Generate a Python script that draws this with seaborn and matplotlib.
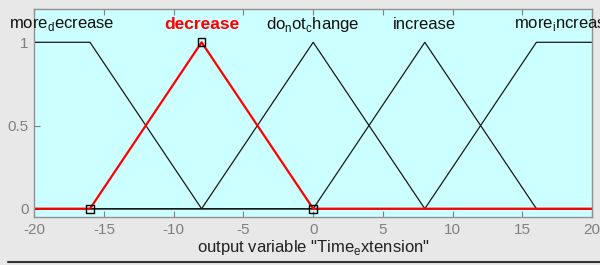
import matplotlib
matplotlib.use("Agg")
import matplotlib.pyplot as plt
import seaborn as sns
import pandas as pd

# membership functions of output variable "Time_extension"
mf_names = ["more$_\\mathrm{d}$ecrease", "decrease", "do$_\\mathrm{n}$ot$_\\mathrm{c}$hange",
            "increase", "more$_\\mathrm{i}$ncrease"]
mf_x = [
    [-20, -16, -8, 20],
    [-20, -16, -8, 0, 20],
    [-20, -8, 0, 8, 20],
    [-20, 0, 8, 16, 20],
    [-20, 8, 16, 20],
]
mf_y = [
    [1, 1, 0, 0],
    [0, 0, 1, 0, 0],
    [0, 0, 1, 0, 0],
    [0, 0, 1, 0, 0],
    [0, 0, 1, 1],
]
label_x = [-18, -8, 0, 8, 18]
selected = 1  # "decrease" is highlighted

xticks = [-20, -15, -10, -5, 0, 5, 10, 15, 20]
yticks = [0, 0.5, 1]
ytick_labels = ["0", "0.5", "1"]

sns.set_style("white")
plt.rcParams["font.family"] = ["Arial", "Liberation Sans", "DejaVu Sans"]
plt.rcParams["mathtext.fontset"] = "custom"
plt.rcParams["mathtext.rm"] = "Liberation Sans"

fig = plt.figure(figsize=(6, 2.65), dpi=100, facecolor="#e8e8e8")
ax = fig.add_axes([0.057, 0.181, 0.93, 0.785])
ax.set_facecolor("#ccffff")

rows = []
for i, name in enumerate(mf_names):
    for xv, yv in zip(mf_x[i], mf_y[i]):
        rows.append({"mf": name, "x": xv, "y": yv})
df = pd.DataFrame(rows)

for i, name in enumerate(mf_names):
    if i == selected:
        continue
    sns.lineplot(data=df[df["mf"] == name], x="x", y="y", ax=ax,
                 color="#1a1a1a", linewidth=0.9, sort=False)

sel = df[df["mf"] == mf_names[selected]]
sns.lineplot(data=sel, x="x", y="y", ax=ax, color="red", linewidth=1.6, sort=False)
# vertex markers of the selected function
sns.scatterplot(x=mf_x[selected][1:4], y=mf_y[selected][1:4], ax=ax, marker="s",
                s=30, facecolor="none", edgecolor="black", linewidth=1.0, zorder=5)

for i, name in enumerate(mf_names):
    if i == selected:
        ax.text(label_x[i], 1.105, name, ha="center", va="center", fontsize=12.5,
                color="red", fontweight="bold", clip_on=False)
    else:
        ax.text(label_x[i], 1.105, name, ha="center", va="center", fontsize=12,
                color="#111111", clip_on=False)

ax.set_xlim(-20, 20)
ax.set_ylim(-0.05, 1.2)
ax.set_xticks(xticks)
ax.set_xticklabels([str(t) for t in xticks])
ax.set_yticks(yticks)
ax.set_yticklabels(ytick_labels)
ax.tick_params(direction="in", length=4, color="#808080", labelcolor="#808080",
               labelsize=11, top=True, right=False, left=True, bottom=True, pad=4)
ax.set_xlabel('output variable "Time$_\\mathrm{e}$xtension"', fontsize=12,
              color="#222222", labelpad=1)
ax.set_ylabel("")
for sp in ax.spines.values():
    sp.set_color("#909090")
    sp.set_linewidth(1.0)

fig.add_artist(plt.Line2D([0.013, 1.0], [0.012, 0.012], color="#333333", linewidth=1.5))

fig.savefig("out.png", dpi=100, facecolor=fig.get_facecolor())
